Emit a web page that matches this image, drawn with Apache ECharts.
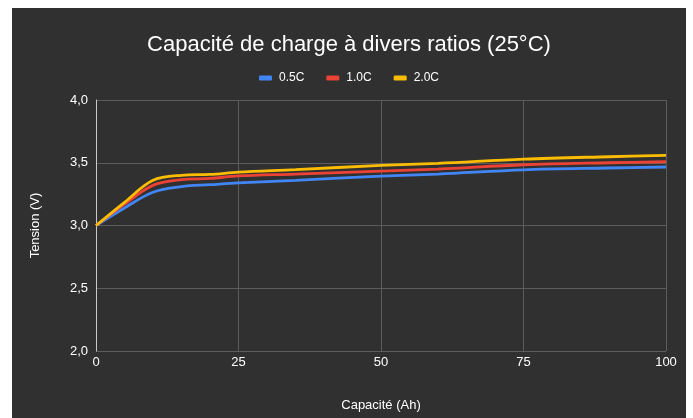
<!DOCTYPE html>
<html>
<head>
<meta charset="utf-8">
<script src="https://cdn.jsdelivr.net/npm/echarts@6/dist/echarts.min.js"></script>
<style>
html,body{margin:0;padding:0;background:#ffffff;}
#c{position:absolute;left:12px;top:8px;width:674px;height:410px;background:#303030;}
</style>
</head>
<body>
<div id="c"></div>
<script>
const capacity = [0, 5, 10, 15, 20, 25, 35, 50, 60, 75, 90, 100];
const c05 = [3.00, 3.14, 3.265, 3.31, 3.325, 3.34, 3.36, 3.394, 3.41, 3.444, 3.458, 3.466];
const c10 = [3.00, 3.17, 3.32, 3.365, 3.375, 3.395, 3.41, 3.434, 3.45, 3.484, 3.50, 3.508];
const c20 = [3.00, 3.185, 3.36, 3.40, 3.407, 3.425, 3.445, 3.479, 3.495, 3.529, 3.548, 3.558];
const seriesNames = ['0.5C', '1.0C', '2.0C'];
const colors = ['#4285F4', '#EA4335', '#FBBC04'];
const yTicks = [2.0, 2.5, 3.0, 3.5, 4.0];
const xTicks = [0, 25, 50, 75, 100];

const font = 'Liberation Sans, Arial, sans-serif';
const toPairs = arr => capacity.map((x, i) => [x, arr[i]]);
const chart = echarts.init(document.getElementById('c'));
chart.setOption({
  backgroundColor: '#303030',
  animation: false,
  title: {
    text: 'Capacité de charge à divers ratios (25°C)',
    left: 'center', top: 21,
    textStyle: {color: '#ffffff', fontSize: 22, fontWeight: 'normal', fontFamily: font}
  },
  legend: {
    top: 59, left: 'center',
    itemWidth: 13, itemHeight: 5, itemGap: 22,
    icon: 'roundRect',
    textStyle: {color: '#ffffff', fontSize: 12, fontFamily: font, padding: [0, 0, 0, 2]},
    data: seriesNames
  },
  grid: {left: 84, right: 20, top: 92, bottom: 67, containLabel: false},
  xAxis: {
    type: 'value', min: xTicks[0], max: xTicks[xTicks.length-1], interval: 25,
    name: 'Capacité (Ah)', nameLocation: 'middle', nameGap: 48,
    nameTextStyle: {color: '#ffffff', fontSize: 13, fontFamily: font},
    axisLine: {show: false},
    axisTick: {show: false},
    axisLabel: {color: '#ffffff', fontSize: 13, fontFamily: font, margin: 5},
    splitLine: {lineStyle: {color: '#5c5c5c', width: 1}}
  },
  yAxis: {
    type: 'value', min: yTicks[0], max: yTicks[yTicks.length-1], interval: 0.5,
    name: 'Tension (V)', nameLocation: 'middle', nameGap: 54,
    nameTextStyle: {color: '#ffffff', fontSize: 13, fontFamily: font},
    axisLine: {show: true, onZero: false, lineStyle: {color: '#c8c8c8', width: 1}},
    axisTick: {show: false},
    axisLabel: {color: '#ffffff', fontSize: 13, fontFamily: font, margin: 8,
      formatter: v => v.toFixed(1).replace('.', ',')},
    splitLine: {lineStyle: {color: '#5c5c5c', width: 1}}
  },
  series: [c05, c10, c20].map((d, i) => ({
    name: seriesNames[i], type: 'line', data: toPairs(d),
    smooth: 0.35, symbol: 'none',
    lineStyle: {color: colors[i], width: 2.8},
    itemStyle: {color: colors[i]}
  }))
});
</script>
</body>
</html>
